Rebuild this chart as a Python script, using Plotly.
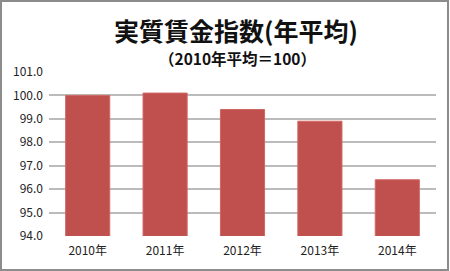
import plotly.graph_objects as go

categories = ["2010年", "2011年", "2012年", "2013年", "2014年"]
values = [100.0, 100.1, 99.4, 98.9, 96.4]
tick_vals = [94, 95, 96, 97, 98, 99, 100, 101]
tick_text = ["94.0", "95.0", "96.0", "97.0", "98.0", "99.0", "100.0", "101.0"]
title_text = "実質賃金指数(年平均)"
subtitle_text = "（2010年平均＝100）"

font_jp = "Noto Sans CJK JP"

W, H = 450, 271
ML, MR, MT, MB = 49, 14, 72, 35
plot_w = W - ML - MR
plot_h = H - MT - MB


def px_x(x):
    return (x - ML) / plot_w


def px_y(y):
    return (H - MB - y) / plot_h


fig = go.Figure()
fig.add_trace(go.Bar(
    x=categories, y=values,
    marker=dict(color="#C0504D", line=dict(color="#D06763", width=1)),
    width=0.57,
))

fig.update_layout(
    width=W, height=H,
    margin=dict(l=ML, r=MR, t=MT, b=MB),
    paper_bgcolor="white", plot_bgcolor="white",
    showlegend=False,
    font=dict(family=font_jp, size=12, color="#222222"),
    xaxis=dict(showgrid=False, showline=False, ticks="", tickfont=dict(size=12), ticklabelstandoff=6),
    yaxis=dict(range=[94, 101], tickvals=tick_vals, ticktext=tick_text,
               showgrid=True, gridcolor="#BBBBBB", gridwidth=1.5,
               zeroline=False, showline=False, ticks="",
               tickfont=dict(size=12), ticklabelstandoff=5),
    shapes=[dict(type="rect", xref="paper", yref="paper",
                 x0=px_x(1), x1=px_x(448), y0=px_y(270), y1=px_y(1),
                 line=dict(color="#8C8C8C", width=2), layer="above")],
    annotations=[
        dict(text="<b>" + title_text + "</b>", xref="paper", yref="paper",
             x=px_x(236), y=px_y(30), yanchor="middle", xanchor="center",
             font=dict(family=font_jp, size=25, color="#111111"), showarrow=False),
        dict(text="<b>" + subtitle_text + "</b>", xref="paper", yref="paper",
             x=px_x(237), y=px_y(58), yanchor="middle", xanchor="center",
             font=dict(family=font_jp, size=15.5, color="#111111"), showarrow=False),
    ],
)

fig.write_html("out.html")
